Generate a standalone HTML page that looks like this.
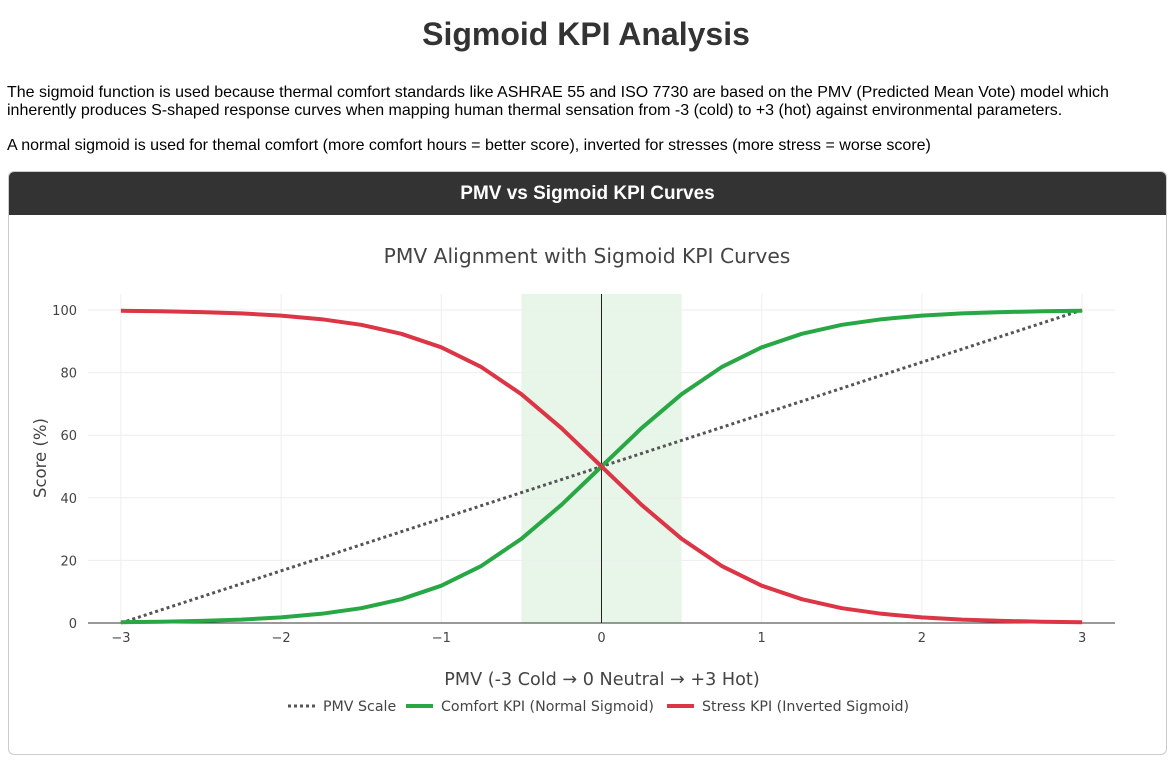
<!DOCTYPE html>
<html><head><meta charset="utf-8"><style>
body{margin:0;width:1172px;height:761px;background:#fff;font-family:"Liberation Sans",Arial,sans-serif;color:#000;overflow:hidden;position:relative}
h1{position:absolute;left:0;width:1172px;top:16px;margin:0;text-align:center;font-size:32px;font-weight:bold;color:#333}
p{position:absolute;left:7px;width:1120px;margin:0;font-size:16px;line-height:18px}
.card{position:absolute;left:8px;top:171px;width:1157px;height:582px;border:1px solid #ccc;border-radius:6px;overflow:hidden}
.hdr{background:#333;color:#fff;height:43px;line-height:43px;text-align:center;font-weight:bold;font-size:19px}
svg{position:absolute;left:0;top:0}
svg text{font-family:"DejaVu Sans","Liberation Sans",sans-serif}
</style></head><body>
<h1>Sigmoid KPI Analysis</h1>
<p style="top:84px">The sigmoid function is used because thermal comfort standards like ASHRAE 55 and ISO 7730 are based on the PMV (Predicted Mean Vote) model which inherently produces S-shaped response curves when mapping human thermal sensation from -3 (cold) to +3 (hot) against environmental parameters.</p>
<p style="top:137px">A normal sigmoid is used for themal comfort (more comfort hours = better score), inverted for stresses (more stress = worse score)</p>
<div class="card"><div class="hdr">PMV vs Sigmoid KPI Curves</div></div>
<svg id="chart" width="1172" height="761"></svg>
<script>
const xs=[-3,-2.75,-2.5,-2.25,-2,-1.75,-1.5,-1.25,-1,-0.75,-0.5,-0.25,0,0.25,0.5,0.75,1,1.25,1.5,1.75,2,2.25,2.5,2.75,3];
const comfort=[0.25,0.41,0.67,1.1,1.8,2.93,4.74,7.59,11.92,18.24,26.89,37.75,50,62.25,73.11,81.76,88.08,92.41,95.26,97.07,98.2,98.9,99.33,99.59,99.75];
const stress=[99.75,99.59,99.33,98.9,98.2,97.07,95.26,92.41,88.08,81.76,73.11,62.25,50,37.75,26.89,18.24,11.92,7.59,4.74,2.93,1.8,1.1,0.67,0.41,0.25];
const pmvX=[-3,3];
const pmvY=[0,100];
const xTicks=[-3,-2,-1,0,1,2,3];
const xTickLabels=["−3","−2","−1","0","1","2","3"];
const yTicks=[0,20,40,60,80,100];
const band=[-0.5,0.5];
const X=v=>601.5+v*160.2, Y=v=>623-v*3.13;
const s=document.getElementById('chart'),NS='http://www.w3.org/2000/svg';
function mk(t,a,txt){const e=document.createElementNS(NS,t);for(const k in a)e.setAttribute(k,a[k]);if(txt!=null)e.textContent=txt;s.appendChild(e);return e;}
let e;
e=mk('rect',{x:X(band[0]),y:294,width:X(band[1])-X(band[0]),height:329,fill:'#e8f5e9'});


yTicks.forEach(v=>{if(v>0){e=mk('line',{x1:88,x2:1115,y1:Y(v),y2:Y(v),stroke:'#eee'});}
e=mk('text',{x:77,y:Y(v)+5,'text-anchor':'end','font-size':13,fill:'#444'},v);

});
xTicks.forEach((v,i)=>{if(v!==0){e=mk('line',{x1:X(v),x2:X(v),y1:294,y2:623,stroke:'#eee'});}
e=mk('text',{x:X(v),y:642,'text-anchor':'middle','font-size':13,fill:'#444'},xTickLabels[i]);

});
e=mk('line',{x1:X(0),x2:X(0),y1:294,y2:623,stroke:'#222','stroke-width':1});


e=mk('line',{x1:88,x2:1115,y1:623,y2:623,stroke:'#333'});


function line(xa,ya,col,w,dash){const d=xa.map((x,i)=>(i?'L':'M')+X(x).toFixed(1)+','+Y(ya[i]).toFixed(1)).join('');return mk('path',{d:d,fill:'none',stroke:col,'stroke-width':w,'stroke-dasharray':dash||'none','stroke-linejoin':'round'});}
e=line(pmvX,pmvY,'#555',3,'3,3');


e=line(xs,comfort,'#28a745',4);


e=line(xs,stress,'#dc3545',4);


e=mk('text',{x:587,y:263,'text-anchor':'middle','font-size':20.3,fill:'#444'},'PMV Alignment with Sigmoid KPI Curves');


e=mk('text',{x:602,y:685,'text-anchor':'middle','font-size':17.6,fill:'#444'},'PMV (-3 Cold → 0 Neutral → +3 Hot)');


e=mk('text',{x:46,y:458,'text-anchor':'middle','font-size':16.5,fill:'#444',transform:'rotate(-90 46 458)'},'Score (%)');


const leg=[['PMV Scale','#555','3,3',288],['Comfort KPI (Normal Sigmoid)','#28a745',null,406],['Stress KPI (Inverted Sigmoid)','#dc3545',null,667]];
leg.forEach(l=>{e=mk('line',{x1:l[3],x2:l[3]+27,y1:706,y2:706,stroke:l[1],'stroke-width':l[2]?3:4,'stroke-dasharray':l[2]||'none'});


e=mk('text',{x:l[3]+35,y:711,'font-size':14.2,fill:'#444'},l[0]);

});
</script>
</body></html>
